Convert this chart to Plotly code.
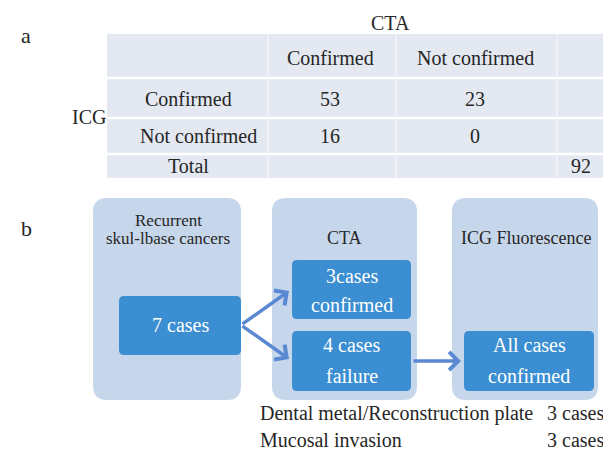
import plotly.graph_objects as go

# ---------------- data ----------------
cta_outcomes = ["Confirmed", "Not confirmed"]      # table columns (CTA)
icg_outcomes = ["Confirmed", "Not confirmed"]      # table rows (ICG)
counts = [[53, 23], [16, 0]]
total_label = "Total"
total_cases = 92
col_group = "CTA"
row_group = "ICG"

stage_titles = [["Recurrent", "skul-lbase cancers"], ["CTA"], ["ICG Fluorescence"]]
recurrent_cases = 7
cta_confirmed = 3
cta_failed = 4
node_labels = [
    [f"{recurrent_cases} cases"],
    [f"{cta_confirmed}cases", "confirmed"],
    [f"{cta_failed} cases", "failure"],
    ["All cases", "confirmed"],
]
failure_reasons = ["Dental metal/Reconstruction plate", "Mucosal invasion"]
failure_counts = [3, 3]

# ---------------- styling / geometry ----------------
W, H = 611, 450
FONT = "Liberation Serif, Times New Roman, serif"
TXT = "#262626"
TABLE_BG = "#E3E8F1"
STAGE_BG = "#C7D7EB"
NODE_BG = "#3B8ED1"
ARROW = "#5A88D2"

tbl_x0, tbl_x1, tbl_y0, tbl_y1 = 99, 602, 26, 170
row_lines = [70, 110, 146]
col_lines = [260, 388, 549]
col_centers = [322, 467]
total_col_center = 573
label_center = 180
header_y = 50
row_ys = [91, 128]
total_y = 158

stage_boxes = [(85, 190, 233, 392), (264, 190, 409, 392), (444, 190, 590, 392)]
stage_title_centers = [160, 336, 518]
stage_title_sizes = [17, 18, 18]
stage_title_ys = [[212, 230], [230], [230]]
node_boxes = [(111, 288, 233, 347), (284, 252, 403, 311), (284, 323, 403, 383), (456, 323, 586, 383)]
node_line_ys = [[317], [268, 297], [337, 368], [337, 368]]


def rrect(x0, y0, x1, y1, r):
    return (f"M{x0+r},{y0} L{x1-r},{y0} Q{x1},{y0} {x1},{y0+r} "
            f"L{x1},{y1-r} Q{x1},{y1} {x1-r},{y1} L{x0+r},{y1} "
            f"Q{x0},{y1} {x0},{y1-r} L{x0},{y0+r} Q{x0},{y0} {x0+r},{y0} Z")


fig = go.Figure()
fig.add_trace(go.Scatter(x=[0, W], y=[0, H], mode="markers",
                         marker=dict(opacity=0), hoverinfo="skip", showlegend=False))

shapes = []
annotations = []


def text(x, y, s, size=20, color=TXT, xanchor="center"):
    annotations.append(dict(x=x, y=y, xref="x", yref="y", text=s, showarrow=False,
                            xanchor=xanchor, yanchor="middle",
                            font=dict(family=FONT, size=size, color=color)))


# ---- panel a: table ----
shapes.append(dict(type="rect", xref="x", yref="y", x0=tbl_x0, x1=tbl_x1, y0=tbl_y0, y1=tbl_y1,
                   fillcolor=TABLE_BG, line=dict(width=0), layer="below"))
for yl in row_lines:
    shapes.append(dict(type="line", xref="x", yref="y", x0=tbl_x0, x1=tbl_x1, y0=yl, y1=yl,
                       line=dict(color="white", width=2.5), layer="below"))
for xl in col_lines:
    shapes.append(dict(type="line", xref="x", yref="y", x0=xl, x1=xl, y0=tbl_y0, y1=tbl_y1,
                       line=dict(color="#F2F4F8", width=1.5), layer="below"))

text(18, 27, "a", size=22)
text(382, 15, col_group)
text(81, 109, row_group)
for c, lab in enumerate(cta_outcomes):
    text(col_centers[c], header_y, lab)
for r, lab in enumerate(icg_outcomes):
    text(label_center + (10 if len(lab) > 10 else 0), row_ys[r], lab)
    for c in range(len(cta_outcomes)):
        text(col_centers[c], row_ys[r], str(counts[r][c]))
text(label_center, total_y, total_label)
text(total_col_center, total_y, str(total_cases))

# ---- panel b: flow ----
text(18, 220, "b", size=22)
for (x0, y0, x1, y1) in stage_boxes:
    shapes.append(dict(type="path", xref="x", yref="y", path=rrect(x0, y0, x1, y1, 14),
                       fillcolor=STAGE_BG, line=dict(width=0), layer="below"))
for i, lines in enumerate(stage_titles):
    for j, ln in enumerate(lines):
        text(stage_title_centers[i], stage_title_ys[i][j], ln, size=stage_title_sizes[i])
for (x0, y0, x1, y1) in node_boxes:
    shapes.append(dict(type="path", xref="x", yref="y", path=rrect(x0, y0, x1, y1, 5),
                       fillcolor=NODE_BG, line=dict(width=0), layer="below"))
for i, lines in enumerate(node_labels):
    cx = (node_boxes[i][0] + node_boxes[i][2]) / 2
    for j, ln in enumerate(lines):
        text(cx, node_line_ys[i][j], ln, size=20, color="white")

# arrows
arrows = [((233, 317), (281, 283)), ((233, 317), (281, 351)), ((404, 353), (453, 353))]
for (tx, ty), (hx, hy) in arrows:
    annotations.append(dict(x=hx, y=hy, ax=tx, ay=ty, xref="x", yref="y", axref="x", ayref="y",
                            text="", showarrow=True, arrowhead=4, arrowsize=1.0,
                            arrowwidth=3.5, arrowcolor=ARROW, standoff=0, startstandoff=0))

# notes
note_ys = [405, 432]
for k, reason in enumerate(failure_reasons):
    text(250, note_ys[k], reason, xanchor="left")
    text(537, note_ys[k], f"{failure_counts[k]} cases", xanchor="left")

fig.update_layout(
    width=W, height=H, margin=dict(l=0, r=0, t=0, b=0),
    paper_bgcolor="white", plot_bgcolor="white",
    font=dict(family=FONT),
    xaxis=dict(range=[0, W], visible=False, fixedrange=True),
    yaxis=dict(range=[H, 0], visible=False, fixedrange=True),
    shapes=shapes, annotations=annotations, showlegend=False,
)
fig.write_html("out.html")
